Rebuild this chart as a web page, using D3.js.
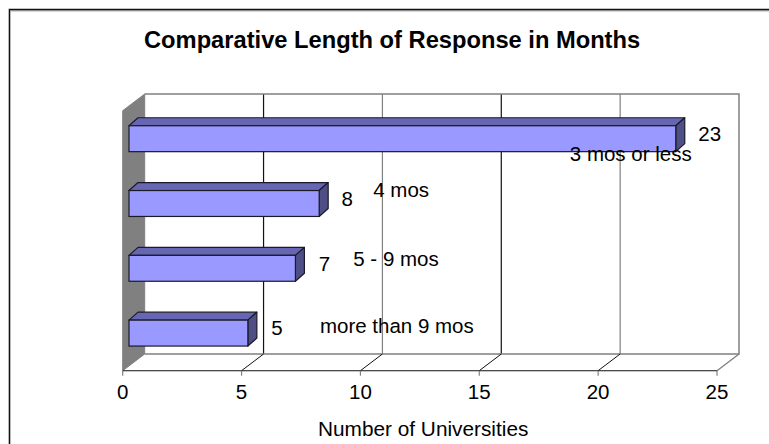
<!DOCTYPE html>
<html><head><meta charset="utf-8">
<style>html,body{margin:0;padding:0;background:#fff}svg{display:block}text{font-family:"Liberation Sans",Arial,sans-serif;fill:#000}</style>
<script src="https://cdn.jsdelivr.net/npm/d3@7"></script></head>
<body><svg id="c" width="769" height="444"></svg>
<script>
const categories = ["3 mos or less","4 mos","5 - 9 mos","more than 9 mos"];
const values = [23,8,7,5];
const ticks = [0,5,10,15,20,25];
const titleText = "Comparative Length of Response in Months";
const axisTitle = "Number of Universities";

// layout
const svg = d3.select("#c");
const x = d3.scaleLinear().domain([0,25]).range([122.7,717]);
const floorY = 370.7, backFloorY = 354, topY = 94;
const dX = 22, dY = floorY-backFloorY;
const barDX = 6.3, barD = {x:9,y:8};
const y = d3.scaleBand().domain(categories).range([106.3,365.5]).paddingInner(0.6).paddingOuter(0.3);
const labelDX = {"3 mos or less":-45,"4 mos":82,"5 - 9 mos":100.6,"more than 9 mos":149};
const labelY = {"3 mos or less":161,"4 mos":196.7,"5 - 9 mos":266,"more than 9 mos":332.7};
const valueDX = {"3 mos or less":34,"4 mos":28,"5 - 9 mos":29,"more than 9 mos":29};
const gridCol = t => (t===5||t===15) ? "#111" : "#808080";
const floorCol = t => (t===25) ? "#808080" : "#111";

// frame
svg.append("path").attr("d","M9.5,444V9.5H769").attr("fill","none").attr("stroke","#111").attr("stroke-width",1.6);
svg.append("path").attr("d","M10.5,10.8H769").attr("stroke","#777").attr("stroke-width",1).attr("fill","none");

// side wall
svg.append("path").attr("fill","#808080").attr("stroke","#808080")
  .attr("d",`M${x(0)},${floorY}L${x(0)+dX},${backFloorY}V${topY}L${x(0)},${topY+dY}Z`);
// grid
svg.selectAll("line.g").data(ticks.slice(1,-1)).join("line").attr("class","g")
  .attr("x1",d=>x(d)+dX).attr("x2",d=>x(d)+dX).attr("y1",topY).attr("y2",backFloorY)
  .attr("stroke",gridCol).attr("stroke-width",1.2);
// back wall and floor outline
svg.append("path").attr("fill","none").attr("stroke","#808080").attr("stroke-width",1.5)
  .attr("d",`M${x(0)+dX},${topY}H${x(25)+dX}V${backFloorY}H${x(0)+dX}`);
svg.selectAll("line.f").data(ticks.slice(1)).join("line").attr("class","f")
  .attr("x1",d=>x(d)).attr("x2",d=>x(d)+dX).attr("y1",floorY).attr("y2",backFloorY)
  .attr("stroke",floorCol).attr("stroke-width",d=>d===25?1.3:1);
// front axis
svg.append("line").attr("x1",x(0)).attr("x2",x(25)).attr("y1",floorY).attr("y2",floorY).attr("stroke","#111").attr("stroke-width",1.1);
svg.selectAll("line.t").data(ticks).join("line").attr("class","t")
  .attr("x1",d=>x(d)).attr("x2",d=>x(d)).attr("y1",floorY).attr("y2",floorY+5).attr("stroke","#808080").attr("stroke-width",1.2);
svg.selectAll("text.t").data(ticks).join("text").attr("class","t")
  .attr("x",d=>x(d)).attr("y",399.3).attr("text-anchor","middle").attr("font-size",20.5).text(d=>d);

// bars
const g = svg.selectAll("g.b").data(categories).join("g").attr("class","b");
const bx0 = x(0)+barDX;
const bw = (i)=>x(values[i])-x(0);
g.append("path").attr("fill","#6666b3").attr("stroke","#1a1a2a").attr("stroke-width",1.2).attr("stroke-linejoin","round")
  .attr("d",(c,i)=>`M${bx0},${y(c)}l${barD.x},${-barD.y}h${bw(i)}l${-barD.x},${barD.y}Z`);
g.append("path").attr("fill","#4f4f86").attr("stroke","#1a1a2a").attr("stroke-width",1.2).attr("stroke-linejoin","round")
  .attr("d",(c,i)=>`M${bx0+bw(i)},${y(c)}l${barD.x},${-barD.y}v${y.bandwidth()}l${-barD.x},${barD.y}Z`);
g.append("rect").attr("fill","#9999ff").attr("stroke","#1a1a2a").attr("stroke-width",1.2)
  .attr("x",bx0).attr("y",c=>y(c)).attr("width",(c,i)=>bw(i)).attr("height",y.bandwidth());
// value labels
g.append("text").attr("x",(c,i)=>bx0+bw(i)+valueDX[c]).attr("y",c=>y(c)+y.bandwidth()/2+2.2)
  .attr("text-anchor","middle").attr("font-size",20.5).text((c,i)=>values[i]);
// category labels
g.append("text").attr("x",(c,i)=>bx0+bw(i)+labelDX[c]).attr("y",c=>labelY[c])
  .attr("text-anchor","middle").attr("font-size",20.5).text(c=>c);

svg.append("text").attr("x",144).attr("y",48).attr("font-size",23.7).attr("font-weight","bold").text(titleText);
svg.append("text").attr("x",318).attr("y",436).attr("font-size",20.8).text(axisTitle);
</script></body></html>
